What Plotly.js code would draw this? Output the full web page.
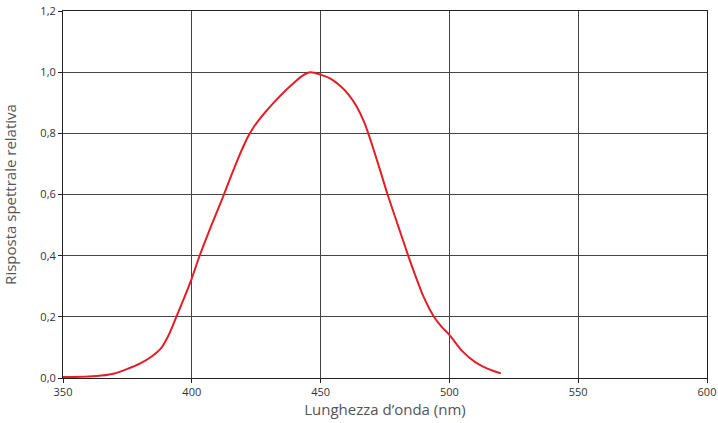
<!DOCTYPE html>
<html>
<head>
<meta charset="utf-8">
<script src="https://cdn.plot.ly/plotly-3.0.1.min.js"></script>
<style>html,body{margin:0;padding:0;background:#fff;}#chart{width:718px;height:423px;}</style>
</head>
<body>
<div id="chart"></div>
<script>
const wavelength = [350,360,365,370,375,380,384,388,391,394,397,400,403,406,409,412,415,418,420,422,424,426,428,432,436,440,443,446,450,454,458,461,464,467,470,473,476,480,484,487,490,494,497,500,505,510,515,520];
const response   = [0.003,0.005,0.008,0.015,0.03,0.048,0.068,0.097,0.14,0.2,0.261,0.326,0.399,0.465,0.528,0.59,0.655,0.718,0.757,0.792,0.82,0.843,0.864,0.902,0.937,0.968,0.989,1.0,0.992,0.978,0.952,0.925,0.888,0.835,0.762,0.682,0.6,0.5,0.4,0.33,0.265,0.2,0.167,0.141,0.088,0.052,0.03,0.015];
const xTickVals = [350,400,450,500,550,600];
const xTickText = ['350','400','450','500','550','600'];
const yTickVals = [0,0.2,0.4,0.6,0.8,1.0,1.2];
const yTickText = ['0,0','0,2','0,4','0,6','0,8','1,0','1,2'];

const trace = {
  x: wavelength, y: response, type: 'scatter', mode: 'lines',
  line: {color: '#e41e26', width: 2, shape: 'spline', smoothing: 0.8},
  hoverinfo: 'skip'
};
const layout = {
  width: 718, height: 423,
  margin: {l: 63, r: 11, t: 11, b: 45},
  paper_bgcolor: '#fff', plot_bgcolor: '#fff',
  showlegend: false,
  font: {family: '"Open Sans", "Noto Sans", sans-serif', color: '#333', size: 11},
  xaxis: {
    range: [350, 600], tickvals: xTickVals, ticktext: xTickText,
    showgrid: true, gridcolor: '#444', gridwidth: 1,
    showline: true, linecolor: '#222', linewidth: 1, mirror: true,
    ticks: 'outside', ticklen: 4, tickcolor: '#222', zeroline: false,
    tickfont: {size: 11, color: '#333'},
    title: {text: 'Lunghezza d’onda (nm)', font: {size: 15, color: '#555'}, standoff: 6}
  },
  yaxis: {
    range: [0, 1.2], tickvals: yTickVals, ticktext: yTickText,
    showgrid: true, gridcolor: '#444', gridwidth: 1,
    showline: true, linecolor: '#222', linewidth: 1, mirror: true,
    ticks: 'outside', ticklen: 4, tickcolor: '#222', zeroline: false,
    tickfont: {size: 11, color: '#333'},
    title: {text: 'Risposta spettrale relativa', font: {size: 15, color: '#555'}, standoff: 20}
  }
};
Plotly.newPlot('chart', [trace], layout, {staticPlot: true, displayModeBar: false});
</script>
</body>
</html>
